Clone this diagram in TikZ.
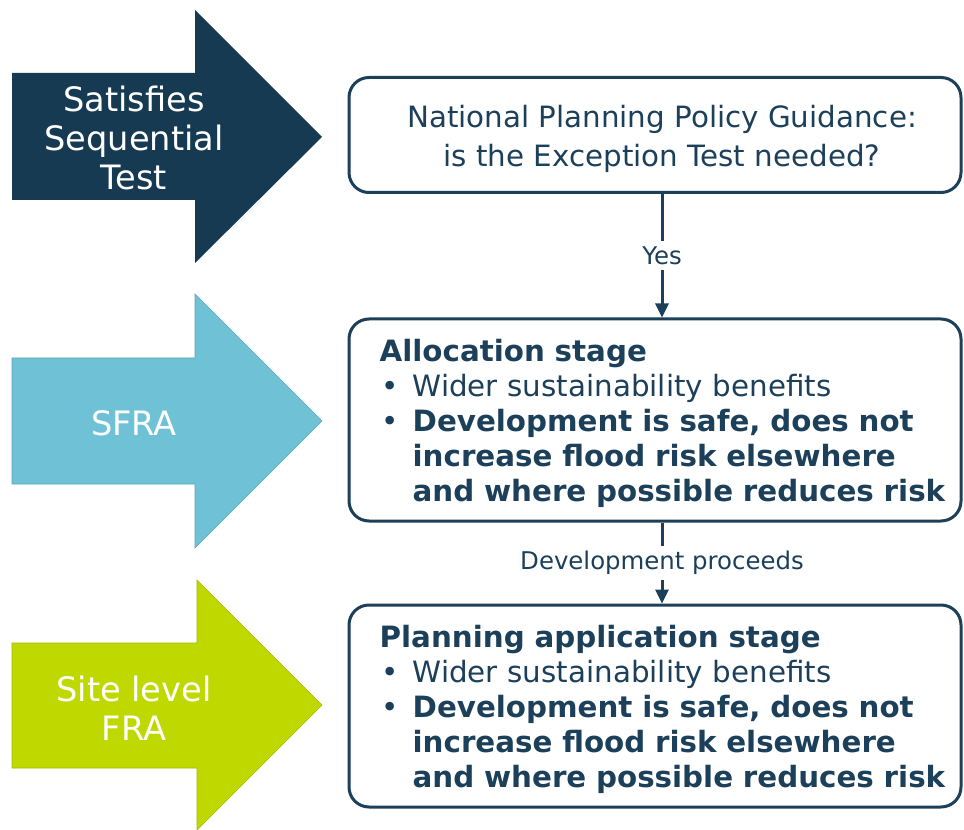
\documentclass[tikz,border=0pt]{standalone}
\usepackage{fontspec}
\setmainfont{DejaVu Sans}
\usetikzlibrary{arrows.meta}

\definecolor{navyArrow}{RGB}{22,58,82}
\definecolor{skyArrow}{RGB}{111,194,214}
\definecolor{limeArrow}{RGB}{191,217,0}
\definecolor{limeEdge}{RGB}{160,186,0}
\definecolor{boxBlue}{RGB}{28,63,90}

% bullet with hanging indent
\newcommand{\itm}[1]{\mbox{\makebox[24.75pt][l]{\hspace{1pt}•}#1}}
\newcommand{\hang}[1]{\mbox{\hspace*{24.75pt}#1}}
\newcommand{\topgap}{\rule{0pt}{22pt}}
\newcommand{\nudge}{\hspace*{10.5pt}}

\begin{document}
\begin{tikzpicture}[x=0.75pt,y=0.75pt,yscale=-1,xscale=1,
  box/.style={draw=boxBlue, line width=2.25pt, rounded corners=15pt, minimum width=459pt, inner sep=0pt, text=boxBlue},
  flow/.style={draw=boxBlue, line width=2.25pt, -{Triangle[length=10.5pt,width=9.75pt]}},
  lbl/.style={fill=white, text=boxBlue, inner sep=4pt, font=\fontsize{18.3}{22}\selectfont},
  arrowText/.style={text=white, align=center, font=\fontsize{25.2}{29}\selectfont}]
\useasboundingbox (0,0) rectangle (964,830);

%Block Arrows
\fill[navyArrow] (12,73) -- (195,73) -- (195,10) -- (322,137) -- (195,263) -- (195,200) -- (12,200) -- cycle;
\filldraw[fill=skyArrow, draw=skyArrow!85!black, line width=0.5pt] (12,358) -- (195,358) -- (195,294) -- (322,421) -- (195,548) -- (195,484) -- (12,484) -- cycle;
\filldraw[fill=limeArrow, draw=limeEdge, line width=0.5pt] (12,643) -- (197,643) -- (197,580) -- (322,705) -- (197,830) -- (197,768) -- (12,768) -- cycle;

% Arrow Text
\node[arrowText] (seqtest) at (134,138) {Satisfies\\Sequential\\Test};
% Arrow Text
\node[arrowText] (sfra) at (134,423) {SFRA};
% Arrow Text
\node[arrowText] (sitefra) at (134,708) {Site level\\FRA};

% Boxes
\node[box, minimum height=86.25pt, align=center, font=\fontsize{22}{29.25}\selectfont] (npg) at (655,135) {\topgap\nudge National Planning Policy Guidance:\\\nudge is the Exception Test needed?};
% Boxes
\node[box, minimum height=151.5pt, text width=413pt, align=left, font=\fontsize{22}{26.25}\selectfont] (alloc) at (655,420) {\topgap\textbf{Allocation stage}\\
\itm{Wider sustainability benefits}\\
\itm{\textbf{Development is safe, does not}}\\
\hang{\textbf{increase flood risk elsewhere}}\\
\hang{\textbf{and where possible reduces risk}}};
% Boxes
\node[box, minimum height=151.5pt, text width=413pt, align=left, font=\fontsize{22}{26.25}\selectfont] (plan) at (655,706) {\topgap\textbf{Planning application stage}\\
\itm{Wider sustainability benefits}\\
\itm{\textbf{Development is safe, does not}}\\
\hang{\textbf{increase flood risk elsewhere}}\\
\hang{\textbf{and where possible reduces risk}}};

% Connectors
\draw[flow] ([xshift=5.25pt]npg.south) -- node[lbl] (yes) {Yes} ([xshift=5.25pt]alloc.north);
\draw[flow] ([xshift=5.25pt]alloc.south) -- node[lbl] (devpro) {Development proceeds} ([xshift=5.25pt]plan.north);

\end{tikzpicture}
\end{document}
